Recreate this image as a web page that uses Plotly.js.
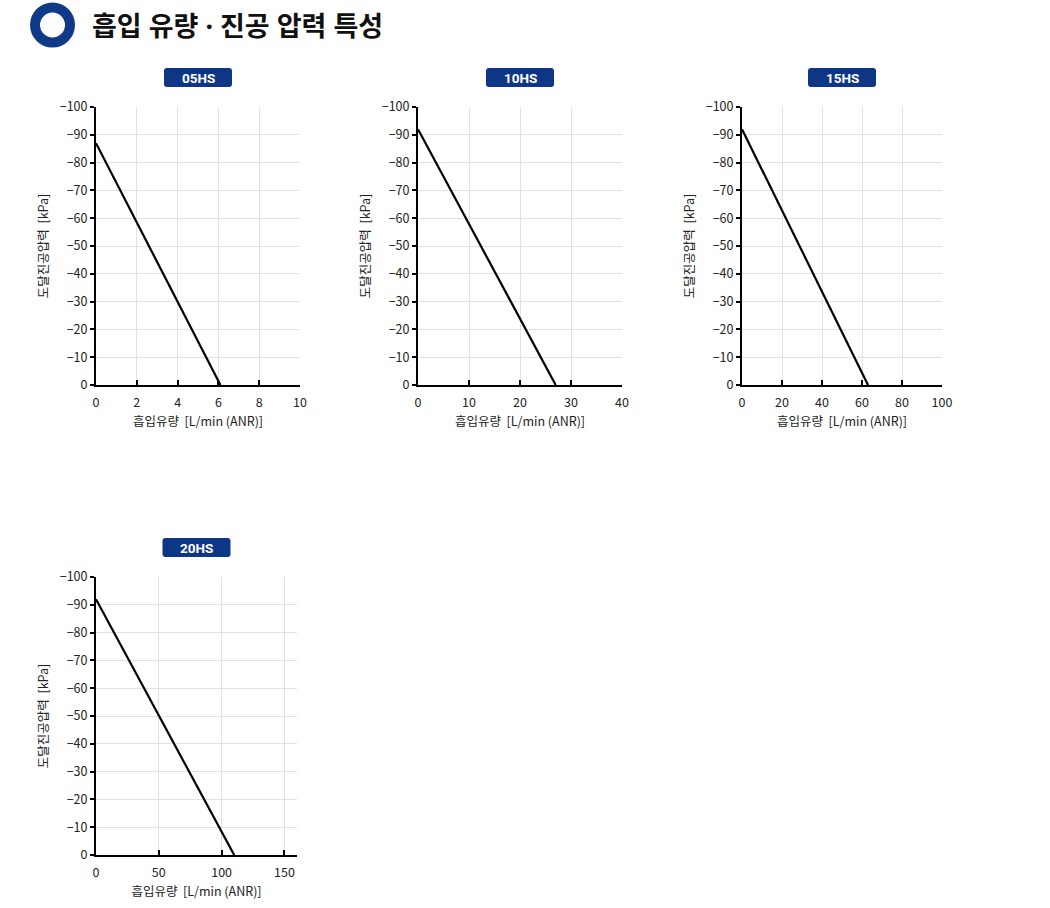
<!DOCTYPE html>
<html>
<head>
<meta charset="utf-8">
<script src="https://cdn.plot.ly/plotly-3.0.1.min.js"></script>
<style>
  html, body { margin: 0; padding: 0; background: #fff; }
  #chart { width: 1050px; height: 908px; }
</style>
</head>
<body>
<div id="chart"></div>
<script>
// model names, in panel order
var models = ['05HS', '10HS', '15HS', '20HS'];

// suction flow [L/min (ANR)] vs. achieved vacuum [kPa]
var flow05 = [0, 6.1];
var vac05 = [-87, 0];
var flow10 = [0, 27];
var vac10 = [-92, 0];
var flow15 = [0, 63];
var vac15 = [-92, 0];
var flow20 = [0, 110];
var vac20 = [-92, 0];

// x axis ranges and tick steps per panel
var xMax = [10, 40, 100, 160];
var xStep = [2, 10, 20, 50];

var flows = [flow05, flow10, flow15, flow20];
var vacs = [vac05, vac10, vac15, vac20];

var W = 1050, H = 908;
function px(v) { return v / W; }
function py(v) { return 1 - v / H; }

// rounded box path in paper coords, from page pixels
function roundBox(l, r, t, b, rad) {
  return 'M' + px(l + rad) + ',' + py(t) +
    ' L' + px(r - rad) + ',' + py(t) +
    ' Q' + px(r) + ',' + py(t) + ' ' + px(r) + ',' + py(t + rad) +
    ' L' + px(r) + ',' + py(b - rad) +
    ' Q' + px(r) + ',' + py(b) + ' ' + px(r - rad) + ',' + py(b) +
    ' L' + px(l + rad) + ',' + py(b) +
    ' Q' + px(l) + ',' + py(b) + ' ' + px(l) + ',' + py(b - rad) +
    ' L' + px(l) + ',' + py(t + rad) +
    ' Q' + px(l) + ',' + py(t) + ' ' + px(l + rad) + ',' + py(t) + ' Z';
}

// plot boxes in page pixels: [left, right, top, bottom]
var boxes = [
  [96, 300, 107, 385],
  [418, 622, 107, 385],
  [742, 942, 107, 385],
  [96, 297, 577, 855]
];

var tickFont = {family: 'Noto Sans CJK KR, Roboto, sans-serif', size: 12.5, color: '#222'};
var titleFont = {family: 'Noto Sans CJK KR, sans-serif', size: 12.5, color: '#222'};

var data = [];
var layout = {
  width: W,
  height: H,
  margin: {l: 0, r: 0, t: 0, b: 0},
  paper_bgcolor: '#fff',
  plot_bgcolor: '#fff',
  showlegend: false,
  annotations: [],
  shapes: []
};

for (var i = 0; i < 4; i++) {
  var n = i === 0 ? '' : String(i + 1);
  var b = boxes[i];
  data.push({
    type: 'scatter',
    mode: 'lines',
    x: flows[i],
    y: vacs[i],
    xaxis: 'x' + n,
    yaxis: 'y' + n,
    line: {color: '#000', width: 2.2},
    cliponaxis: false,
    hoverinfo: 'x+y'
  });

  layout['xaxis' + n] = {
    domain: [px(b[0]), px(b[1])],
    anchor: 'y' + n,
    range: [0, xMax[i]],
    dtick: xStep[i],
    tick0: 0,
    showgrid: true,
    gridcolor: '#e2e2e2',
    gridwidth: 1,
    zeroline: false,
    showline: true,
    linecolor: '#000',
    linewidth: 2,
    ticks: 'inside',
    ticklen: 5,
    tickwidth: 2,
    tickcolor: '#000',
    tickfont: tickFont,
    ticklabelstandoff: 5,
    title: {text: '흡입유량  [L/min (ANR)]', font: titleFont, standoff: 3},
    fixedrange: true
  };

  layout['yaxis' + n] = {
    domain: [py(b[3]), py(b[2])],
    anchor: 'x' + n,
    range: [0, -100],
    dtick: 10,
    tick0: 0,
    showgrid: true,
    gridcolor: '#e2e2e2',
    gridwidth: 1,
    zeroline: false,
    showline: true,
    linecolor: '#000',
    linewidth: 2,
    ticks: 'outside',
    ticklen: 4,
    tickwidth: 2,
    tickcolor: '#000',
    tickfont: tickFont,
    title: {text: '도달진공압력  [kPa]', font: titleFont, standoff: 8},
    fixedrange: true
  };

  // model badge above each panel
  var cx = (b[0] + b[1]) / 2;
  layout.shapes.push({
    type: 'path',
    xref: 'paper', yref: 'paper',
    path: roundBox(cx - 34, cx + 34, b[2] - 39, b[2] - 20, 3),
    fillcolor: '#0e3686',
    line: {width: 0},
    layer: 'above'
  });
  layout.annotations.push({
    xref: 'paper', yref: 'paper',
    x: px(cx), y: py(b[2] - 29.5),
    xanchor: 'center', yanchor: 'middle',
    text: '<b>' + models[i] + '</b>',
    showarrow: false,
    font: {family: 'Roboto, Liberation Sans, sans-serif', size: 13.5, color: '#fff'}
  });
}

// page heading with ring mark
layout.shapes.push({
  type: 'circle',
  xref: 'paper', yref: 'paper',
  x0: px(35), x1: px(70),
  y0: py(42.5), y1: py(7.5),
  line: {color: '#0e3a88', width: 10},
  fillcolor: 'rgba(0,0,0,0)'
});
layout.annotations.push({
  xref: 'paper', yref: 'paper',
  x: px(90), y: py(25),
  xanchor: 'left', yanchor: 'middle',
  text: '<b>흡입 유량 · 진공 압력 특성</b>',
  showarrow: false,
  font: {family: 'Noto Sans, Noto Sans CJK KR, sans-serif', size: 27, color: '#111'}
});

Plotly.newPlot('chart', data, layout, {displayModeBar: false, staticPlot: true});
</script>
</body>
</html>
